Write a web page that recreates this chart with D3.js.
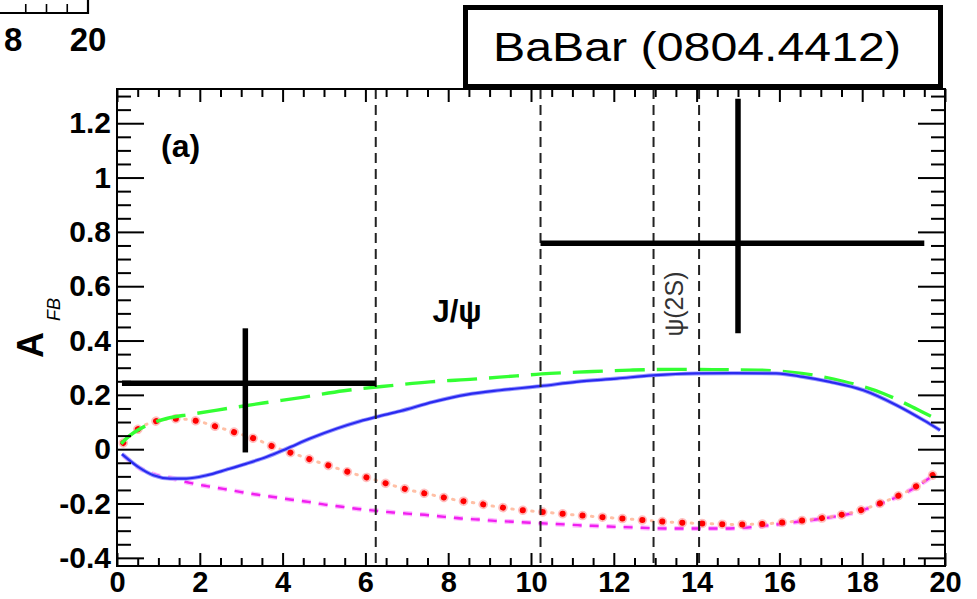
<!DOCTYPE html>
<html><head><meta charset="utf-8">
<script src="https://cdn.jsdelivr.net/npm/d3@7"></script>
<style>
html,body{margin:0;padding:0;background:#fff;}
svg{display:block;font-family:"Liberation Sans",Arial,Helvetica,sans-serif;}
</style></head><body>
<svg id="chart" width="977" height="599"></svg>
<script>
// ---------- data ----------
const xTicks = [0, 2, 4, 6, 8, 10, 12, 14, 16, 18, 20];
const xTickLabels = ["0", "2", "4", "6", "8", "10", "12", "14", "16", "18", "20"];
const yTicks = [-0.4, -0.2, 0, 0.2, 0.4, 0.6, 0.8, 1.0, 1.2];
const yTickLabels = ["-0.4", "-0.2", "0", "0.2", "0.4", "0.6", "0.8", "1", "1.2"];

// remnant of the panel above (only its last labels are visible)
const remTicks = [18.5, 19, 19.5];
const remLabelPos = [18.2, 20];
const remLabels = ["8", "20"];

const vetoLines = [6.25, 10.23, 12.96, 14.06];

// BaBar measurement bins
const binCenter = [3.1, 15.0];
const binLow = [0.12, 10.23];
const binHigh = [6.25, 19.5];
const afbValue = [0.243, 0.758];
const afbErrLow = [0.255, 0.331];
const afbErrHigh = [0.202, 0.532];

// theory curves
const greenX = [0.1, 0.2, 0.72, 1.2, 1.76, 2.42, 3.53, 4.48, 5.48, 6.61, 7.56, 8.61, 9.65, 10.46, 11.35, 12.39, 13.4, 14.44, 15.49, 16.54, 17.54, 18.51, 19.44, 19.88];
const greenY = [0.02, 0.036, 0.088, 0.113, 0.128, 0.144, 0.170, 0.191, 0.215, 0.234, 0.248, 0.258, 0.270, 0.279, 0.285, 0.291, 0.294, 0.293, 0.291, 0.279, 0.250, 0.205, 0.138, 0.105];

const blueX = [0.12, 0.51, 0.88, 1.28, 1.68, 2.17, 2.65, 3.13, 3.62, 4.10, 4.66, 5.31, 5.87, 6.27, 6.84, 7.64, 8.45, 9.25, 10.22, 11.1, 12.07, 12.95, 14.0, 14.89, 15.93, 16.58, 17.22, 18.03, 18.83, 19.48, 19.88];
const blueY = [-0.018, -0.065, -0.096, -0.108, -0.108, -0.096, -0.075, -0.053, -0.028, 0.002, 0.039, 0.076, 0.103, 0.119, 0.140, 0.174, 0.201, 0.217, 0.232, 0.248, 0.260, 0.272, 0.279, 0.280, 0.279, 0.266, 0.248, 0.217, 0.162, 0.107, 0.070];

const redX = [0.15, 0.51, 0.96, 1.44, 1.95, 2.42, 2.89, 3.37, 3.83, 4.30, 4.77, 5.25, 5.71, 6.21, 6.67, 7.14, 7.63, 8.12, 8.61, 9.11, 9.59, 10.48, 11.45, 12.43, 13.44, 14.44, 14.95, 15.43, 15.92, 16.40, 16.92, 17.38, 17.87, 18.35, 18.82, 19.28, 19.82];
const redY = [0.023, 0.074, 0.104, 0.112, 0.103, 0.082, 0.060, 0.036, 0.006, -0.018, -0.043, -0.067, -0.090, -0.112, -0.134, -0.153, -0.169, -0.185, -0.197, -0.210, -0.221, -0.234, -0.247, -0.258, -0.269, -0.275, -0.277, -0.276, -0.272, -0.265, -0.256, -0.245, -0.229, -0.204, -0.175, -0.139, -0.082];

const magentaX = [0.15, 0.56, 0.96, 1.36, 1.76, 2.17, 2.57, 2.97, 3.37, 3.78, 4.18, 4.62, 5.02, 5.43, 5.83, 6.27, 6.67, 7.08, 7.52, 7.91, 8.31, 8.73, 9.13, 9.56, 10.0, 10.42, 10.82, 11.25, 11.67, 12.07, 12.49, 12.92, 13.32, 14.08, 14.57, 15.05, 15.77, 16.40, 16.92, 17.38, 17.87, 18.35, 18.82, 19.28, 19.76];
const magentaY = [-0.022, -0.071, -0.096, -0.108, -0.124, -0.136, -0.146, -0.157, -0.167, -0.176, -0.185, -0.194, -0.204, -0.212, -0.220, -0.227, -0.233, -0.238, -0.243, -0.249, -0.255, -0.259, -0.264, -0.267, -0.271, -0.274, -0.277, -0.281, -0.283, -0.286, -0.288, -0.291, -0.292, -0.292, -0.292, -0.290, -0.280, -0.268, -0.258, -0.247, -0.231, -0.206, -0.177, -0.141, -0.092];

// ---------- layout ----------
const svg = d3.select("#chart");
const L = 117, R = 945, T = 89, B = 566;
const x = d3.scaleLinear().domain([0, 20]).range([L, R]);
const y = d3.scaleLinear().domain([-0.43, 1.326]).range([B, T]);
const FONT = '"Liberation Sans", Arial, Helvetica, sans-serif';

// remnant of the panel above (top-left corner)
const xr = d3.scaleLinear().domain([18, 20]).range([5, 88]);
const rem = svg.append("g");
rem.append("path").attr("d", `M0,13H${xr(20)}V0`).attr("fill", "none").attr("stroke", "#000").attr("stroke-width", 2.2);
rem.selectAll("line.rt").data(remTicks).enter().append("line")
  .attr("x1", d => xr(d)).attr("x2", d => xr(d)).attr("y1", 13).attr("y2", 4)
  .attr("stroke", "#000").attr("stroke-width", 1.6);
rem.selectAll("text").data(remLabels).enter().append("text")
  .attr("x", (d, i) => xr(remLabelPos[i])).attr("y", 51).attr("text-anchor", "middle")
  .attr("font-size", 33).attr("font-weight", "bold").attr("font-family", FONT)
  .text(d => d);

// clip for plot contents
svg.append("clipPath").attr("id", "plotclip").append("rect")
  .attr("x", L).attr("y", T).attr("width", R - L).attr("height", B - T);

const plot = svg.append("g").attr("clip-path", "url(#plotclip)");

const line = d3.line().x(d => x(d[0])).y(d => y(d[1])).curve(d3.curveMonotoneX);
const zip = (a, b) => a.map((v, i) => [v, b[i]]);

// magenta dotted
plot.append("path").attr("d", line(zip(magentaX, magentaY)))
  .attr("fill", "none").attr("stroke", "#ff66ff").attr("stroke-width", 5)
  .attr("stroke-dasharray", "9 8").attr("opacity", 0.45);
plot.append("path").attr("d", line(zip(magentaX, magentaY)))
  .attr("fill", "none").attr("stroke", "#f020f0").attr("stroke-width", 2.4)
  .attr("stroke-dasharray", "9 8");

// red dotted
plot.append("path").attr("d", line(zip(redX, redY)))
  .attr("fill", "none").attr("stroke", "#ffb090").attr("stroke-width", 3)
  .attr("stroke-linecap", "round").attr("stroke-dasharray", "1.5 18.5").attr("stroke-dashoffset", -9).attr("opacity", 0.8);
plot.append("path").attr("d", line(zip(redX, redY)))
  .attr("fill", "none").attr("stroke", "#ff8080").attr("stroke-width", 9.5)
  .attr("stroke-linecap", "round").attr("stroke-dasharray", "0.1 19.9").attr("opacity", 0.5);
plot.append("path").attr("d", line(zip(redX, redY)))
  .attr("fill", "none").attr("stroke", "#ff0000").attr("stroke-width", 6)
  .attr("stroke-linecap", "round").attr("stroke-dasharray", "0.1 19.9");

// green dashed
plot.append("path").attr("d", line(zip(greenX, greenY)))
  .attr("fill", "none").attr("stroke", "#33ff33").attr("stroke-width", 3.4)
  .attr("stroke-dasharray", "30 12");

// blue solid
plot.append("path").attr("d", line(zip(blueX, blueY)))
  .attr("fill", "none").attr("stroke", "#9a9aff").attr("stroke-width", 4);
plot.append("path").attr("d", line(zip(blueX, blueY)))
  .attr("fill", "none").attr("stroke", "#2a2af0").attr("stroke-width", 2.2);

// veto lines
plot.selectAll("line.veto").data(vetoLines).enter().append("line")
  .attr("class", "veto")
  .attr("x1", d => x(d)).attr("x2", d => x(d)).attr("y1", T).attr("y2", B)
  .attr("stroke", "#222").attr("stroke-width", 2).attr("stroke-dasharray", "10 6");

// data error bars
const bins = binCenter.map((c, i) => ({ c, lo: binLow[i], hi: binHigh[i], v: afbValue[i], el: afbErrLow[i], eh: afbErrHigh[i] }));
const eb = plot.selectAll("g.eb").data(bins).enter().append("g");
eb.append("line").attr("x1", d => x(d.lo)).attr("x2", d => x(d.hi))
  .attr("y1", d => y(d.v)).attr("y2", d => y(d.v)).attr("stroke", "#000").attr("stroke-width", 5.5);
eb.append("line").attr("x1", d => x(d.c)).attr("x2", d => x(d.c))
  .attr("y1", d => y(d.v - d.el)).attr("y2", d => y(d.v + d.eh)).attr("stroke", "#000").attr("stroke-width", 5.5);

// ---------- axes ----------
function ticksBetween(a, b, step) {
  const out = [];
  for (let v = a; v <= b + 1e-9; v += step) out.push(+v.toFixed(4));
  return out;
}
const xMinor = ticksBetween(0, 20, 0.5).filter(v => !xTicks.includes(v));
const yMinor = ticksBetween(-0.4, 1.3, 0.05).filter(v => !yTicks.some(t => Math.abs(t - v) < 1e-6));

const axStyle = g => {
  g.select(".domain").remove();
  g.selectAll("line").attr("stroke", "#000").attr("stroke-width", 2);
  g.selectAll("text").attr("font-size", 29).attr("font-weight", "bold").attr("font-family", FONT).attr("fill", "#000");
};

// bottom
svg.append("g").attr("transform", `translate(0,${B})`)
  .call(d3.axisBottom(x).tickValues(xTicks).tickFormat((d, i) => xTickLabels[i]).tickSize(-13).tickPadding(6))
  .call(axStyle)
  .call(g => g.selectAll("text").attr("dy", "0.7em"));
svg.append("g").attr("transform", `translate(0,${B})`)
  .call(d3.axisBottom(x).tickValues(xMinor).tickFormat("").tickSize(-8)).call(axStyle);
// top
svg.append("g").attr("transform", `translate(0,${T})`)
  .call(d3.axisTop(x).tickValues(xTicks).tickFormat("").tickSize(-13)).call(axStyle);
svg.append("g").attr("transform", `translate(0,${T})`)
  .call(d3.axisTop(x).tickValues(xMinor).tickFormat("").tickSize(-8)).call(axStyle);
// left
svg.append("g").attr("transform", `translate(${L},0)`)
  .call(d3.axisLeft(y).tickValues(yTicks).tickFormat((d, i) => yTickLabels[i]).tickSize(-27).tickPadding(6))
  .call(axStyle)
  .call(g => g.selectAll("text").attr("font-size", 30));
svg.append("g").attr("transform", `translate(${L},0)`)
  .call(d3.axisLeft(y).tickValues(yMinor).tickFormat("").tickSize(-14)).call(axStyle);
// right
svg.append("g").attr("transform", `translate(${R},0)`)
  .call(d3.axisRight(y).tickValues(yTicks).tickFormat("").tickSize(-27)).call(axStyle);
svg.append("g").attr("transform", `translate(${R},0)`)
  .call(d3.axisRight(y).tickValues(yMinor).tickFormat("").tickSize(-14)).call(axStyle);

// frame
svg.append("rect").attr("x", L).attr("y", T).attr("width", R - L).attr("height", B - T)
  .attr("fill", "none").attr("stroke", "#000").attr("stroke-width", 2);

// ---------- labels ----------
svg.append("text").attr("x", 161).attr("y", 157).attr("font-size", 32).attr("font-weight", "bold")
  .attr("font-family", FONT).text("(a)");
svg.append("text").attr("x", 457).attr("y", 322).attr("text-anchor", "middle").attr("font-size", 31)
  .attr("font-weight", "bold").attr("font-family", FONT).text("J/ψ");
svg.append("text").attr("transform", "translate(683,304) rotate(-90)").attr("text-anchor", "middle")
  .attr("font-size", 25).attr("fill", "#333").attr("font-family", FONT).text("ψ(2S)");

// y title A_FB
svg.append("text").attr("transform", "translate(43,358) rotate(-90)").attr("font-size", 36)
  .attr("font-weight", "bold").attr("font-family", FONT).text("A");
svg.append("text").attr("transform", "translate(60,321) rotate(-90)").attr("font-size", 18)
  .attr("font-style", "italic").attr("font-family", FONT).text("FB");

// BaBar box
svg.append("rect").attr("x", 465.5).attr("y", 7.5).attr("width", 475).attr("height", 79)
  .attr("fill", "#fff").attr("stroke", "#000").attr("stroke-width", 5);
svg.append("text").attr("x", 493).attr("y", 61).attr("font-size", 41).attr("font-family", FONT)
  .attr("textLength", 408).attr("lengthAdjust", "spacingAndGlyphs").text("BaBar (0804.4412)");
</script>
</body></html>
